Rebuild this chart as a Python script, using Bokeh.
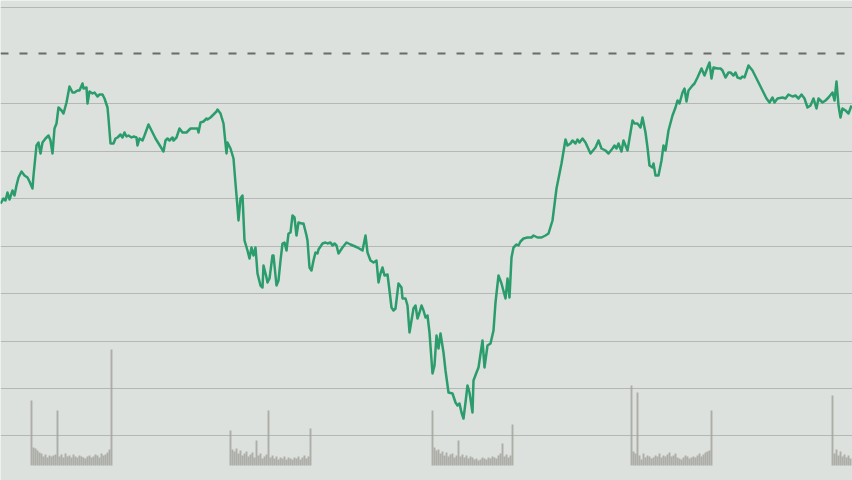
from bokeh.plotting import figure
from bokeh.models import Range1d, FixedTicker, Span
from bokeh.embed import file_html
from bokeh.resources import INLINE

# ---- price series (time in minutes, price) ----
t = [0, 3, 5, 7, 9, 12, 14, 16, 18, 21, 24, 27, 29, 32, 33, 36, 38, 40, 42, 45,
     48, 50, 52, 54, 56, 58, 61, 63, 66, 69, 72, 74, 77, 79, 82, 83, 86, 87, 89, 92,
     94, 97, 99, 102, 104, 107, 108, 110, 113, 115, 117, 120, 122, 124, 126, 128, 131, 133, 136, 137,
     139, 142, 144, 148, 155, 163, 165, 167, 169, 172, 173, 176, 179, 182, 186, 190, 193, 197, 198, 200,
     203, 206, 207, 210, 213, 216, 217, 220, 223, 226, 227, 230, 233, 235, 237, 238, 240, 242, 244, 247,
     249, 251, 253, 255, 257, 260, 262, 263, 266, 267, 269, 272, 273, 276, 278, 280, 282, 284, 286, 288,
     290, 292, 294, 296, 298, 301, 303, 306, 307, 309, 311, 313, 315, 317, 318, 322, 325, 327, 330, 332,
     334, 336, 338, 342, 346, 350, 357, 362, 365, 367, 370, 373, 376, 378, 380, 382, 384, 387, 389, 391,
     393, 395, 398, 401, 402, 405, 407, 409, 411, 413, 415, 417, 419, 421, 423, 425, 427, 429, 432, 434,
     436, 438, 440, 443, 445, 448, 452, 455, 457, 459, 461, 463, 465, 467, 469, 472, 473, 476, 478, 482,
     484, 487, 490, 493, 495, 498, 501, 505, 507, 509, 511, 513, 516, 518, 520, 523, 527, 531, 533, 537,
     541, 545, 548, 552, 556, 561, 565, 567, 570, 572, 575, 577, 579, 582, 585, 590, 595, 598, 601, 605,
     608, 612, 614, 616, 618, 621, 623, 625, 627, 632, 634, 637, 640, 642, 645, 647, 649, 652, 653, 655,
     658, 661, 663, 665, 668, 672, 675, 677, 679, 682, 684, 686, 688, 692, 694, 697, 701, 704, 707, 709,
     711, 713, 717, 720, 722, 725, 728, 730, 733, 735, 737, 740, 742, 744, 748, 752, 757, 762, 766, 769,
     772, 774, 777, 782, 785, 788, 792, 795, 798, 801, 804, 807, 810, 813, 816, 818, 822, 825, 828, 832,
     834, 836, 838, 840, 842, 845, 848, 851]

price = [27.7, 28.2, 28.0, 28.8, 28.1, 29.0, 28.5, 29.5, 30.3, 30.9, 30.5, 30.3, 29.9, 29.2, 30.5, 33.5, 33.8, 32.7, 33.8, 34.2,
         34.5, 34.0, 32.7, 35.2, 35.7, 37.3, 37.0, 36.7, 37.8, 39.4, 38.8, 38.8, 39.0, 39.0, 39.7, 39.2, 39.3, 37.7, 38.9, 38.7,
         38.8, 38.4, 38.6, 38.6, 38.2, 37.3, 36.2, 33.7, 33.7, 34.2, 34.3, 34.6, 34.3, 34.8, 34.4, 34.5, 34.3, 34.4, 34.3, 33.5,
         34.2, 34.0, 34.5, 35.6, 34.2, 32.9, 34.0, 34.2, 34.0, 34.3, 34.0, 34.3, 35.2, 34.8, 34.8, 35.2, 35.2, 35.2, 34.8, 35.8,
         35.9, 36.2, 36.1, 36.3, 36.6, 36.9, 37.1, 36.7, 35.7, 32.7, 33.8, 33.2, 32.2, 29.7, 27.3, 26.0, 28.2, 28.5, 24.0, 23.0,
         22.2, 23.3, 22.5, 23.3, 20.7, 19.5, 19.3, 21.5, 20.3, 19.8, 20.2, 22.5, 22.5, 19.5, 20.0, 22.0, 23.7, 23.8, 23.0, 24.7,
         24.8, 26.5, 26.3, 24.5, 25.8, 25.7, 25.7, 24.5, 24.0, 21.3, 21.0, 22.0, 22.8, 22.7, 23.1, 23.7, 23.8, 23.7, 23.8, 23.5,
         23.7, 23.5, 22.7, 23.3, 23.8, 23.6, 23.3, 23.0, 24.5, 22.8, 22.0, 21.8, 22.0, 19.8, 20.7, 21.3, 20.5, 20.6, 19.0, 17.3,
         17.0, 17.2, 19.7, 19.3, 18.2, 18.2, 17.5, 14.8, 16.0, 17.2, 17.5, 16.2, 16.8, 17.5, 17.0, 16.3, 16.5, 14.8, 10.7, 11.5,
         14.5, 13.2, 14.7, 12.8, 11.0, 8.8, 8.7, 7.8, 7.5, 7.7, 6.8, 6.2, 7.8, 9.5, 8.8, 6.8, 10.0, 10.8, 11.3, 14.0,
         11.3, 13.5, 13.7, 15.0, 17.8, 20.5, 19.7, 18.2, 20.2, 18.3, 22.3, 23.3, 23.6, 23.5, 23.9, 24.2, 24.3, 24.3, 24.5, 24.3,
         24.3, 24.5, 24.7, 26.0, 29.2, 31.7, 34.1, 33.5, 33.7, 34.0, 33.7, 34.1, 33.8, 34.2, 33.8, 32.7, 33.3, 34.0, 33.2, 33.0,
         32.7, 33.2, 33.5, 33.2, 33.7, 32.9, 34.0, 33.5, 33.0, 36.0, 35.7, 35.7, 35.3, 36.3, 34.8, 33.3, 31.5, 31.3, 31.7, 30.5,
         30.5, 32.0, 33.5, 33.0, 35.0, 36.5, 37.3, 38.0, 37.7, 38.8, 39.2, 37.9, 39.0, 39.5, 39.7, 40.3, 41.2, 40.5, 41.3, 41.8,
         40.2, 41.3, 41.2, 41.2, 41.0, 40.3, 40.8, 40.8, 40.5, 40.8, 40.3, 40.2, 40.4, 40.3, 41.5, 41.0, 40.0, 39.0, 38.2, 37.8,
         38.3, 37.8, 38.2, 38.3, 38.2, 38.6, 38.4, 38.5, 38.2, 38.6, 38.2, 37.3, 37.5, 38.2, 37.2, 38.2, 37.8, 38.0, 38.3, 38.8,
         38.0, 39.9, 37.5, 36.3, 37.2, 37.0, 36.7, 37.5]

# ---- volume clusters (session start time, bar volumes every 2 minutes) ----
session_starts = [31, 230, 432, 631, 832]
volumes = [
    [65, 18, 17, 15, 13, 12, 9, 11, 8, 10, 9, 10, 11, 55, 9, 11, 8, 12, 9, 10, 8, 11, 9, 8, 10, 9, 8, 7, 9, 10, 8, 9, 11, 10, 8, 12, 10, 11, 13, 16, 116],
    [35, 16, 14, 17, 12, 15, 10, 12, 14, 9, 11, 13, 8, 25, 10, 12, 7, 9, 11, 55, 8, 10, 7, 9, 6, 8, 7, 9, 6, 8, 7, 6, 8, 7, 9, 6, 8, 10, 7, 9, 37],
    [55, 18, 15, 16, 12, 14, 10, 13, 9, 11, 12, 8, 10, 25, 9, 11, 8, 10, 7, 9, 8, 6, 7, 5, 6, 8, 7, 6, 8, 7, 9, 8, 7, 10, 12, 22, 9, 11, 8, 10, 41],
    [80, 14, 12, 73, 10, 6, 12, 8, 10, 9, 7, 8, 10, 9, 12, 8, 10, 9, 11, 13, 9, 10, 12, 8, 7, 6, 8, 10, 9, 7, 8, 9, 8, 10, 12, 9, 11, 13, 14, 15, 55],
    [70, 12, 16, 10, 14, 9, 11, 8, 10, 7],
]
bar_step = 2

# ---- grid levels and reference level ----
grid_levels = [47.3, 37.7, 32.9, 28.2, 23.4, 18.7, 13.9, 9.2, 4.5]
ref_level = 42.7

vol_t, vol_v = [], []
for start, vs in zip(session_starts, volumes):
    for i, v in enumerate(vs):
        vol_t.append(start + bar_step * i)
        vol_v.append(v)

p = figure(width=852, height=480, output_backend="svg", toolbar_location=None,
           x_range=Range1d(0, 852), y_range=Range1d(0, 48),
           min_border=0, x_axis_location=None, y_axis_location=None)
p.extra_y_ranges = {"vol": Range1d(-15, 465)}
p.background_fill_color = "#dde1de"
p.border_fill_color = "#dde1de"
p.outline_line_color = None

p.xgrid.visible = False
p.ygrid.ticker = FixedTicker(ticks=grid_levels)
p.ygrid.grid_line_color = "#a9adab"
p.ygrid.grid_line_width = 1
p.ygrid.grid_line_alpha = 0.8

p.add_layout(Span(location=ref_level, dimension="width", line_color="#6b6b68",
                  line_width=2, line_dash="8 11"))

p.vbar(x=vol_t, top=vol_v, bottom=0, width=1.9, y_range_name="vol",
       fill_color="#a3a49e", line_color=None, fill_alpha=0.85)

p.line(t, price, line_color="#2b9d6c", line_width=2.5, line_join="round")

open("out.html", "w").write(file_html(p, INLINE))
